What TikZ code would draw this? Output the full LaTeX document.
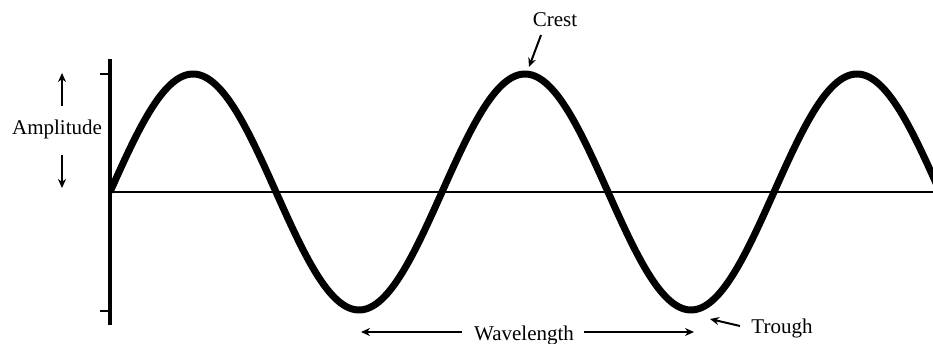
\documentclass[tikz,border=0pt]{standalone}
\usepackage{fontspec}
\setmainfont{Liberation Serif}
\usetikzlibrary{arrows.meta}
\begin{document}
\begin{tikzpicture}[x=1pt,y=-1pt,
  lbl/.style={font=\fontsize{21}{25}\selectfont, inner sep=0pt, anchor=base},
  ptr/.style={line width=2pt, -{Stealth[length=9pt,width=8pt]}},
  axis/.style={line width=2pt},
  wave/.style={line width=7pt, line join=round}]
\useasboundingbox (0,0) rectangle (933,344);
% axes
\coordinate (vtop) at (110,59);
\coordinate (vbot) at (110,325);
\coordinate (h0) at (110,192);
\coordinate (h1) at (933,192);
\draw[line width=3.5pt] (vtop) -- (vbot);
\draw[axis] (h0) -- (h1);
\coordinate (t1a) at (100,74); \coordinate (t1b) at (110,74);
\coordinate (t2a) at (100,311); \coordinate (t2b) at (110,311);
\draw[axis] (t1a) -- (t1b);
\draw[axis] (t2a) -- (t2b);
% wave
\begin{scope}
\clip (108,0) rectangle (933,344);
\draw[wave] plot[domain=110:940, samples=300, smooth] (\x, {192-118*sin((\x-110)/332*360)});
\end{scope}
% labels
\node[lbl] (amp) at (57,135) {Amplitude};
\node[lbl] (crest) at (555,27) {Crest};
\node[lbl] (wl) at (524,340) {Wavelength};
\node[lbl] (trough) at (782,333) {Trough};
% amplitude arrows
\coordinate (au0) at (62,106); \coordinate (au1) at (62,73);
\coordinate (ad0) at (62,155); \coordinate (ad1) at (62,188);
\draw[ptr] (au0) -- (au1);
\draw[ptr] (ad0) -- (ad1);
% crest arrow
\coordinate (cr0) at (541,35); \coordinate (cr1) at (529,67);
\draw[ptr] (cr0) -- (cr1);
% wavelength arrows
\coordinate (wlL) at (361,332); \coordinate (wlR) at (694,332);
\draw[ptr] ([xshift=-12pt]wl.west |- 0,332) -- (wlL);
\draw[ptr] ([xshift=10pt]wl.east |- 0,332) -- (wlR);
% trough arrow
\coordinate (tr1) at (710,319);
\draw[ptr] (740,326) -- (tr1);
\end{tikzpicture}
\end{document}
